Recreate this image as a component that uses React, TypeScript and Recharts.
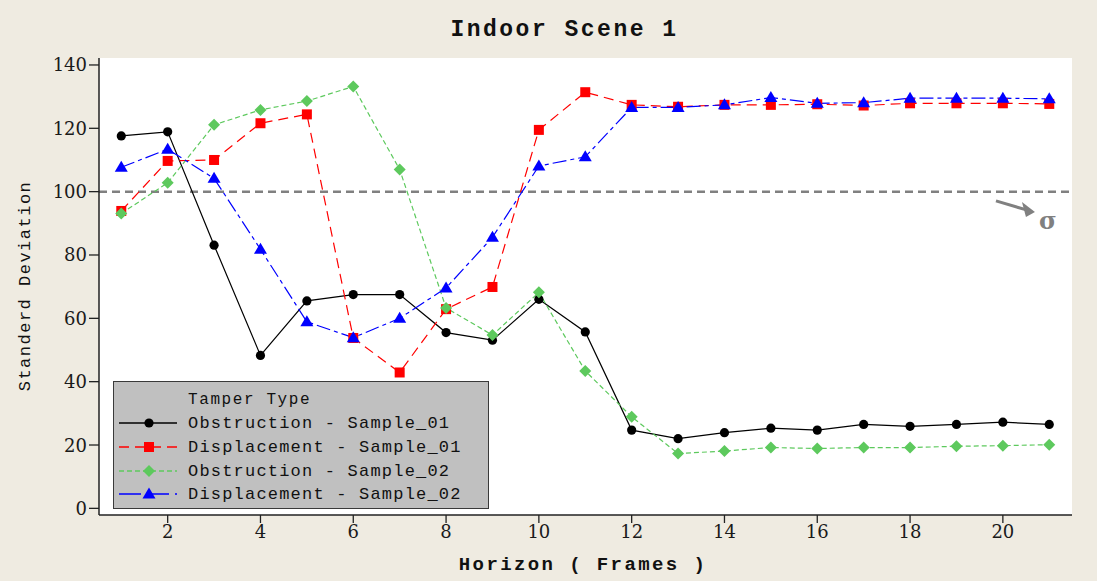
import React from "react";
import { LineChart, Line, XAxis, YAxis, CartesianGrid, ReferenceLine, ReferenceDot } from "recharts";

const frames = [1, 2, 3, 4, 5, 6, 7, 8, 9, 10, 11, 12, 13, 14, 15, 16, 17, 18, 19, 20, 21];
const obstructionS01 = [117.6, 118.9, 83.1, 48.3, 65.5, 67.5, 67.5, 55.5, 53.1, 66, 55.7, 24.7, 22, 23.9, 25.3, 24.7, 26.5, 25.9, 26.5, 27.2, 26.5];
const displacementS01 = [93.9, 109.7, 110, 121.6, 124.4, 53.8, 42.9, 62.9, 69.9, 119.5, 131.4, 127.4, 126.8, 127.4, 127.4, 127.6, 127.2, 127.9, 127.9, 127.9, 127.7];
const obstructionS02 = [93.1, 102.8, 121.1, 125.8, 128.6, 133.2, 107, 63.3, 54.7, 68.2, 43.4, 28.9, 17.3, 18.1, 19.2, 18.9, 19.2, 19.2, 19.6, 19.8, 20.1];
const displacementS02 = [107.7, 113.4, 104.2, 81.8, 58.9, 53.9, 60, 69.6, 85.6, 108.1, 111, 126.6, 126.6, 127.4, 129.7, 127.9, 128.1, 129.5, 129.5, 129.5, 129.3];

const xTicks = [2, 4, 6, 8, 10, 12, 14, 16, 18, 20];
const yTicks = [0, 20, 40, 60, 80, 100, 120, 140];
const threshold = 100;

const data = frames.map((f, i) => ({
  frame: f,
  o1: obstructionS01[i],
  d1: displacementS01[i],
  o2: obstructionS02[i],
  d2: displacementS02[i],
}));

type Marker = "circle" | "square" | "diamond" | "triangle";

const series: { key: string; name: string; color: string; dash?: string; marker: Marker; legendDash?: string }[] = [
  { key: "o1", name: "Obstruction - Sample_01", color: "#000000", marker: "circle" },
  { key: "d1", name: "Displacement - Sample_01", color: "#FF0000", dash: "10 6", marker: "square", legendDash: "10 6" },
  { key: "o2", name: "Obstruction - Sample_02", color: "#5DC95D", dash: "5 3", marker: "diamond", legendDash: "5 3" },
  { key: "d2", name: "Displacement - Sample_02", color: "#0000FF", dash: "14 4 4 4", marker: "triangle", legendDash: "22 6" },
];

function markerShape(kind: Marker, cx: number, cy: number, color: string, key?: any) {
  if (kind === "circle") return <circle key={key} cx={cx} cy={cy} r={4.6} fill={color} stroke="none" />;
  if (kind === "square") return <rect key={key} x={cx - 5} y={cy - 5} width={10} height={10} fill={color} stroke="none" />;
  if (kind === "diamond")
    return <polygon key={key} points={`${cx},${cy - 6} ${cx + 6},${cy} ${cx},${cy + 6} ${cx - 6},${cy}`} fill={color} stroke="none" />;
  return <polygon key={key} points={`${cx},${cy - 6.5} ${cx + 6.5},${cy + 4.5} ${cx - 6.5},${cy + 4.5}`} fill={color} stroke="none" />;
}

const monoFont = "'Liberation Mono', 'DejaVu Sans Mono', monospace";
const serifFont = "DejaVu Serif";
const bg = "#EFEBE1";

const XTick = (props: any) => {
  const { x, y, payload } = props;
  return (
    <text x={x} y={y + 9} textAnchor="middle" style={{ fontFamily: serifFont, fontSize: 18 }} fill="#1a1a1a">
      {payload.value}
    </text>
  );
};

const YTick = (props: any) => {
  const { x, y, payload } = props;
  return (
    <text x={x} y={y} textAnchor="end" dominantBaseline="central" style={{ fontFamily: serifFont, fontSize: 18 }} fill="#1a1a1a">
      {payload.value}
    </text>
  );
};

function Legend() {
  const rowY = [42, 66, 90, 113];
  return (
    <div
      style={{
        position: "absolute",
        left: 113,
        top: 381,
        width: 376,
        height: 128,
        background: "#C0C0C0",
        border: "1.5px solid #3a3a3a",
        boxSizing: "border-box",
      }}
    >
      <svg width={376} height={128} style={{ position: "absolute", left: -1.5, top: -1.5 }}>
        <text x={75} y={19} dominantBaseline="central" fontFamily={monoFont} fontSize={16} letterSpacing={1.6} fill="#111">
          Tamper Type
        </text>
        {series.map((s, i) => (
          <g key={s.key}>
            <line x1={6} x2={64} y1={rowY[i]} y2={rowY[i]} stroke={s.color} strokeWidth={1.3} strokeDasharray={s.legendDash} />
            {markerShape(s.marker, 36, rowY[i], s.color)}
            <text x={75} y={rowY[i]} dominantBaseline="central" fontFamily={monoFont} fontSize={17} letterSpacing={1.2} fill="#111">
              {s.name}
            </text>
          </g>
        ))}
      </svg>
    </div>
  );
}

const ArrowShape = (props: any) => {
  const { cx, cy } = props;
  if (cx == null || cy == null) return null;
  return (
    <g>
      <line x1={cx - 38} y1={cy - 11} x2={cx - 4} y2={cy - 1} stroke="#808080" strokeWidth={3} />
      <polygon points={`${cx + 1},${cy} ${cx - 12},${cy - 10} ${cx - 8},${cy + 5}`} fill="#808080" />
    </g>
  );
};

const SigmaShape = (props: any) => {
  const { cx, cy } = props;
  if (cx == null || cy == null) return null;
  return (
    <text x={cx} y={cy} textAnchor="middle" dominantBaseline="central" style={{ fontFamily: "DejaVu Serif", fontWeight: "bold", fontSize: 24 }} fill="#808080">
      σ
    </text>
  );
};

export default function App() {
  return (
    <div style={{ position: "absolute", left: 0, top: 0, width: 1097, height: 581, background: bg, overflow: "hidden" }}>
      <div
        style={{
          position: "absolute",
          left: 0,
          width: 1097,
          top: 17,
          textAlign: "center",
          fontFamily: monoFont,
          fontWeight: "bold",
          fontSize: 23,
          letterSpacing: 2.5,
          color: "#111",
          paddingLeft: 32,
          boxSizing: "border-box",
        }}
      >
        Indoor Scene 1
      </div>
      <div
        style={{
          position: "absolute",
          left: 25,
          top: 286,
          transform: "translate(-50%, -50%) rotate(-90deg)",
          whiteSpace: "nowrap",
          fontFamily: monoFont,
          fontSize: 17,
          letterSpacing: 1.5,
          color: "#111",
        }}
      >
        Standerd Deviation
      </div>
      <div
        style={{
          position: "absolute",
          left: 583,
          top: 565,
          transform: "translate(-50%, -50%)",
          whiteSpace: "nowrap",
          fontFamily: monoFont,
          fontWeight: "bold",
          fontSize: 19,
          letterSpacing: 2.4,
          color: "#111",
        }}
      >
        Horizon ( Frames )
      </div>
      <div style={{ position: "absolute", left: 0, top: 0 }}>
        <LineChart width={1097} height={581} data={data} margin={{ top: 58, right: 25, bottom: 36, left: 39 }}>
          <CartesianGrid horizontal={false} vertical={false} fill="#FFFFFF" />
          <XAxis
            xAxisId="b"
            dataKey="frame"
            type="number"
            domain={[0.52, 21.49]}
            ticks={xTicks}
            allowDataOverflow
            height={30}
            tickSize={8}
            tickMargin={6}
            axisLine={{ stroke: "#222", strokeWidth: 1.5 }}
            tickLine={{ stroke: "#222", strokeWidth: 1.3 }}
            tick={<XTick />}
          />
          <XAxis xAxisId="t" orientation="top" dataKey="frame" type="number" domain={[0.52, 21.49]} height={0} tick={false} tickLine={false} axisLine={{ stroke: "#222", strokeWidth: 1.5 }} />
          <YAxis
            yAxisId="l"
            type="number"
            domain={[-2.1, 142.2]}
            ticks={yTicks}
            allowDataOverflow
            width={60}
            tickSize={10}
            tickMargin={2}
            axisLine={{ stroke: "#222", strokeWidth: 1.5 }}
            tickLine={{ stroke: "#222", strokeWidth: 1.3 }}
            tick={<YTick />}
          />
          <YAxis yAxisId="r" orientation="right" type="number" domain={[-2.1, 142.2]} width={0} tick={false} tickLine={false} axisLine={{ stroke: "#222", strokeWidth: 1.5 }} />
          <ReferenceLine xAxisId="b" yAxisId="l" y={threshold} stroke="#808080" strokeWidth={2.5} strokeDasharray="8 5" />
          {series.map((s) => (
            <Line
              key={s.key}
              xAxisId="b"
              yAxisId="l"
              type="linear"
              dataKey={s.key}
              name={s.name}
              stroke={s.color}
              strokeWidth={1.2}
              strokeDasharray={s.dash}
              isAnimationActive={false}
              activeDot={false}
              dot={(p: any) => markerShape(s.marker, p.cx, p.cy, s.color, `${s.key}-${p.index}`)}
            />
          ))}
          <ReferenceDot xAxisId="b" yAxisId="l" x={20.67} y={93.6} shape={ArrowShape} />
          <ReferenceDot xAxisId="b" yAxisId="l" x={20.97} y={91} shape={SigmaShape} />
        </LineChart>
      </div>
      <Legend />
    </div>
  );
}
